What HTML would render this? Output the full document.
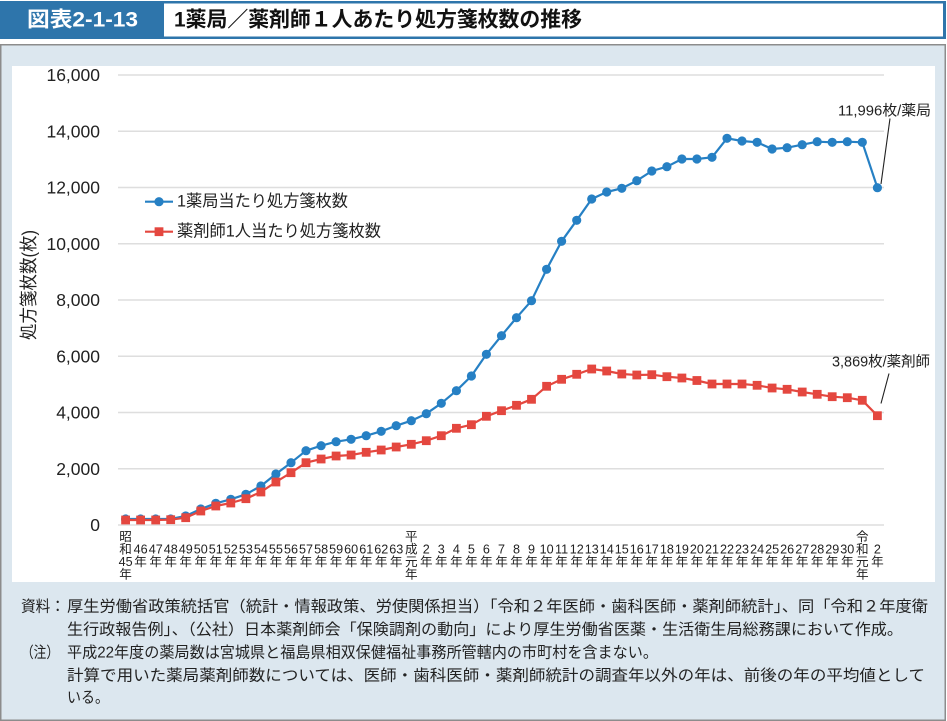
<!DOCTYPE html>
<html><head><meta charset="utf-8"><style>
html,body{margin:0;padding:0;background:#fff;}
svg{display:block;}
text{font-family:"Liberation Sans","Noto Sans CJK JP",sans-serif;}
</style></head><body>
<svg width="947" height="721" viewBox="0 0 947 721" xmlns="http://www.w3.org/2000/svg">
<defs>
<marker id="mc" markerUnits="userSpaceOnUse" markerWidth="12" markerHeight="12" refX="6" refY="6" viewBox="0 0 12 12"><circle cx="6" cy="6" r="4.6" fill="#2680c4"/></marker>
<marker id="ms" markerUnits="userSpaceOnUse" markerWidth="12" markerHeight="12" refX="6" refY="6" viewBox="0 0 12 12"><rect x="1.6" y="1.6" width="8.8" height="8.8" fill="#e4473f"/></marker>
</defs>
<rect x="0" y="0" width="947" height="721" fill="#fff"/>
<!-- header -->
<rect x="0" y="1" width="946" height="38" fill="#2e75ab"/>
<rect x="164" y="3.5" width="779" height="33" fill="#fff"/>
<text x="27" y="20" dominant-baseline="central" font-size="21" font-weight="bold" fill="#fff" textLength="111" lengthAdjust="spacingAndGlyphs">図表2-1-13</text>
<text x="174" y="20" dominant-baseline="central" font-size="21" font-weight="bold" fill="#111" textLength="408" lengthAdjust="spacingAndGlyphs">1薬局／薬剤師１人あたり処方箋枚数の推移</text>
<!-- panel -->
<rect x="0.75" y="44.75" width="944.5" height="675.5" fill="#dce7ef" stroke="#8c8c8c" stroke-width="1.5"/>
<rect x="12" y="66" width="923" height="516" fill="#fff"/>
<!-- gridlines -->
<g stroke="#dedede" stroke-width="1.6">
<line x1="118" x2="884" y1="75" y2="75"/>
<line x1="118" x2="884" y1="131.25" y2="131.25"/>
<line x1="118" x2="884" y1="187.5" y2="187.5"/>
<line x1="118" x2="884" y1="243.75" y2="243.75"/>
<line x1="118" x2="884" y1="300" y2="300"/>
<line x1="118" x2="884" y1="356.25" y2="356.25"/>
<line x1="118" x2="884" y1="412.5" y2="412.5"/>
<line x1="118" x2="884" y1="468.75" y2="468.75"/>
<line x1="118" x2="884" y1="525" y2="525"/>
</g>
<!-- y tick labels -->
<g font-size="17.5" fill="#222" text-anchor="end" dominant-baseline="central">
<text x="100" y="75">16,000</text>
<text x="100" y="131.25">14,000</text>
<text x="100" y="187.5">12,000</text>
<text x="100" y="243.75">10,000</text>
<text x="100" y="300">8,000</text>
<text x="100" y="356.25">6,000</text>
<text x="100" y="412.5">4,000</text>
<text x="100" y="468.75">2,000</text>
<text x="100" y="525">0</text>
</g>
<!-- y axis title -->
<text transform="translate(29,285) rotate(-90)" text-anchor="middle" dominant-baseline="central" font-size="18" fill="#222" textLength="110" lengthAdjust="spacingAndGlyphs">処方箋枚数(枚)</text>
<!-- series -->
<polyline fill="none" stroke="#2680c4" stroke-width="2.2" stroke-linejoin="round" marker-start="url(#mc)" marker-mid="url(#mc)" marker-end="url(#mc)" points="125.6,519 140.6,519 155.7,519 170.7,519 185.7,516 200.8,509 215.8,503.3 230.8,499.3 245.9,494.3 260.9,486 275.9,474 291,462.7 306,450.7 321.1,445.7 336.1,441.7 351.1,439.3 366.2,435.7 381.2,431.3 396.2,425.7 411.3,420.7 426.3,413.7 441.3,403.3 456.4,390.7 471.4,376 486.4,354.3 501.5,335.7 516.5,317.7 531.5,300.7 546.6,269.3 561.6,241.3 576.7,220.3 591.7,199 606.7,192 621.8,188.3 636.8,180.7 651.8,171 666.9,166.7 681.9,159 696.9,159 712,157.3 727,138.3 742,141 757.1,142.3 772.1,149 787.1,147.7 802.2,144.7 817.2,141.7 832.2,142.3 847.3,141.7 862.3,142.3 877.4,187.7"/>
<polyline fill="none" stroke="#e4473f" stroke-width="2.2" stroke-linejoin="round" marker-start="url(#ms)" marker-mid="url(#ms)" marker-end="url(#ms)" points="125.6,520 140.6,520 155.7,520 170.7,519.7 185.7,517.7 200.8,511 215.8,506 230.8,503 245.9,498.7 260.9,492 275.9,482 291,472.7 306,462.7 321.1,459 336.1,456 351.1,455 366.2,452.3 381.2,450 396.2,447 411.3,444.3 426.3,440.7 441.3,435.7 456.4,428.3 471.4,424.7 486.4,416.3 501.5,410.7 516.5,405.3 531.5,399.3 546.6,386.3 561.6,379.3 576.7,374.3 591.7,369 606.7,371 621.8,374 636.8,375 651.8,374.7 666.9,376.7 681.9,378 696.9,380.5 712,384 727,384 742,384 757.1,385.3 772.1,388 787.1,389.3 802.2,392 817.2,394.3 832.2,396.7 847.3,397.7 862.3,400.3 877.4,415.7"/>
<!-- legend -->
<line x1="145" x2="173" y1="201.7" y2="201.7" stroke="#2680c4" stroke-width="2.2"/>
<circle cx="159" cy="201.7" r="4.6" fill="#2680c4"/>
<text x="177" y="201.7" dominant-baseline="central" font-size="16.4" fill="#222" textLength="171" lengthAdjust="spacingAndGlyphs">1薬局当たり処方箋枚数</text>
<line x1="145" x2="173" y1="231.7" y2="231.7" stroke="#e4473f" stroke-width="2.2"/>
<rect x="154.6" y="227.3" width="8.8" height="8.8" fill="#e4473f"/>
<text x="177" y="231.7" dominant-baseline="central" font-size="16.4" fill="#222" textLength="204" lengthAdjust="spacingAndGlyphs">薬剤師1人当たり処方箋枚数</text>
<!-- annotations -->
<text x="838" y="111.7" dominant-baseline="central" font-size="14.5" fill="#222" textLength="93" lengthAdjust="spacingAndGlyphs">11,996枚/薬局</text>
<line x1="890" y1="118.5" x2="881" y2="184" stroke="#222" stroke-width="1.1"/>
<text x="832" y="362.7" dominant-baseline="central" font-size="14.5" fill="#222" textLength="98" lengthAdjust="spacingAndGlyphs">3,869枚/薬剤師</text>
<line x1="889" y1="373.5" x2="881" y2="403.5" stroke="#222" stroke-width="1.1"/>
<!-- x labels -->
<g font-size="12.6" fill="#222" text-anchor="middle" dominant-baseline="central">
<text x="125.6" y="537">昭</text><text x="125.6" y="549.5">和</text><text x="125.6" y="562">45</text><text x="125.6" y="574.5">年</text>
<text x="140.6" y="549.5">46</text><text x="140.6" y="562">年</text>
<text x="155.7" y="549.5">47</text><text x="155.7" y="562">年</text>
<text x="170.7" y="549.5">48</text><text x="170.7" y="562">年</text>
<text x="185.7" y="549.5">49</text><text x="185.7" y="562">年</text>
<text x="200.8" y="549.5">50</text><text x="200.8" y="562">年</text>
<text x="215.8" y="549.5">51</text><text x="215.8" y="562">年</text>
<text x="230.8" y="549.5">52</text><text x="230.8" y="562">年</text>
<text x="245.9" y="549.5">53</text><text x="245.9" y="562">年</text>
<text x="260.9" y="549.5">54</text><text x="260.9" y="562">年</text>
<text x="275.9" y="549.5">55</text><text x="275.9" y="562">年</text>
<text x="291" y="549.5">56</text><text x="291" y="562">年</text>
<text x="306" y="549.5">57</text><text x="306" y="562">年</text>
<text x="321.1" y="549.5">58</text><text x="321.1" y="562">年</text>
<text x="336.1" y="549.5">59</text><text x="336.1" y="562">年</text>
<text x="351.1" y="549.5">60</text><text x="351.1" y="562">年</text>
<text x="366.2" y="549.5">61</text><text x="366.2" y="562">年</text>
<text x="381.2" y="549.5">62</text><text x="381.2" y="562">年</text>
<text x="396.2" y="549.5">63</text><text x="396.2" y="562">年</text>
<text x="411.3" y="537">平</text><text x="411.3" y="549.5">成</text><text x="411.3" y="562">元</text><text x="411.3" y="574.5">年</text>
<text x="426.3" y="549.5">2</text><text x="426.3" y="562">年</text>
<text x="441.3" y="549.5">3</text><text x="441.3" y="562">年</text>
<text x="456.4" y="549.5">4</text><text x="456.4" y="562">年</text>
<text x="471.4" y="549.5">5</text><text x="471.4" y="562">年</text>
<text x="486.4" y="549.5">6</text><text x="486.4" y="562">年</text>
<text x="501.5" y="549.5">7</text><text x="501.5" y="562">年</text>
<text x="516.5" y="549.5">8</text><text x="516.5" y="562">年</text>
<text x="531.5" y="549.5">9</text><text x="531.5" y="562">年</text>
<text x="546.6" y="549.5">10</text><text x="546.6" y="562">年</text>
<text x="561.6" y="549.5">11</text><text x="561.6" y="562">年</text>
<text x="576.7" y="549.5">12</text><text x="576.7" y="562">年</text>
<text x="591.7" y="549.5">13</text><text x="591.7" y="562">年</text>
<text x="606.7" y="549.5">14</text><text x="606.7" y="562">年</text>
<text x="621.8" y="549.5">15</text><text x="621.8" y="562">年</text>
<text x="636.8" y="549.5">16</text><text x="636.8" y="562">年</text>
<text x="651.8" y="549.5">17</text><text x="651.8" y="562">年</text>
<text x="666.9" y="549.5">18</text><text x="666.9" y="562">年</text>
<text x="681.9" y="549.5">19</text><text x="681.9" y="562">年</text>
<text x="696.9" y="549.5">20</text><text x="696.9" y="562">年</text>
<text x="712" y="549.5">21</text><text x="712" y="562">年</text>
<text x="727" y="549.5">22</text><text x="727" y="562">年</text>
<text x="742" y="549.5">23</text><text x="742" y="562">年</text>
<text x="757.1" y="549.5">24</text><text x="757.1" y="562">年</text>
<text x="772.1" y="549.5">25</text><text x="772.1" y="562">年</text>
<text x="787.1" y="549.5">26</text><text x="787.1" y="562">年</text>
<text x="802.2" y="549.5">27</text><text x="802.2" y="562">年</text>
<text x="817.2" y="549.5">28</text><text x="817.2" y="562">年</text>
<text x="832.2" y="549.5">29</text><text x="832.2" y="562">年</text>
<text x="847.3" y="549.5">30</text><text x="847.3" y="562">年</text>
<text x="862.3" y="537">令</text><text x="862.3" y="549.5">和</text><text x="862.3" y="562">元</text><text x="862.3" y="574.5">年</text>
<text x="877.4" y="549.5">2</text><text x="877.4" y="562">年</text>
</g>
<!-- footnotes -->
<g font-size="15.5" fill="#222" dominant-baseline="central">
<text x="21" y="607" textLength="44" lengthAdjust="spacingAndGlyphs">資料：</text>
<text x="67" y="607" textLength="861" lengthAdjust="spacingAndGlyphs">厚生労働省政策統括官（統計・情報政策、労使関係担当）「令和２年医師・歯科医師・薬剤師統計」、同「令和２年度衛</text>
<text x="67" y="630" textLength="836" lengthAdjust="spacingAndGlyphs">生行政報告例」、（公社）日本薬剤師会「保険調剤の動向」により厚生労働省医薬・生活衛生局総務課において作成。</text>
<text x="21" y="653" textLength="38" lengthAdjust="spacingAndGlyphs">（注）</text>
<text x="67" y="653" textLength="591" lengthAdjust="spacingAndGlyphs">平成22年度の薬局数は宮城県と福島県相双保健福祉事務所管轄内の市町村を含まない。</text>
<text x="67" y="676" textLength="858" lengthAdjust="spacingAndGlyphs">計算で用いた薬局薬剤師数については、医師・歯科医師・薬剤師統計の調査年以外の年は、前後の年の平均値として</text>
<text x="67" y="698" textLength="42" lengthAdjust="spacingAndGlyphs">いる。</text>
</g>
</svg>
</body></html>
